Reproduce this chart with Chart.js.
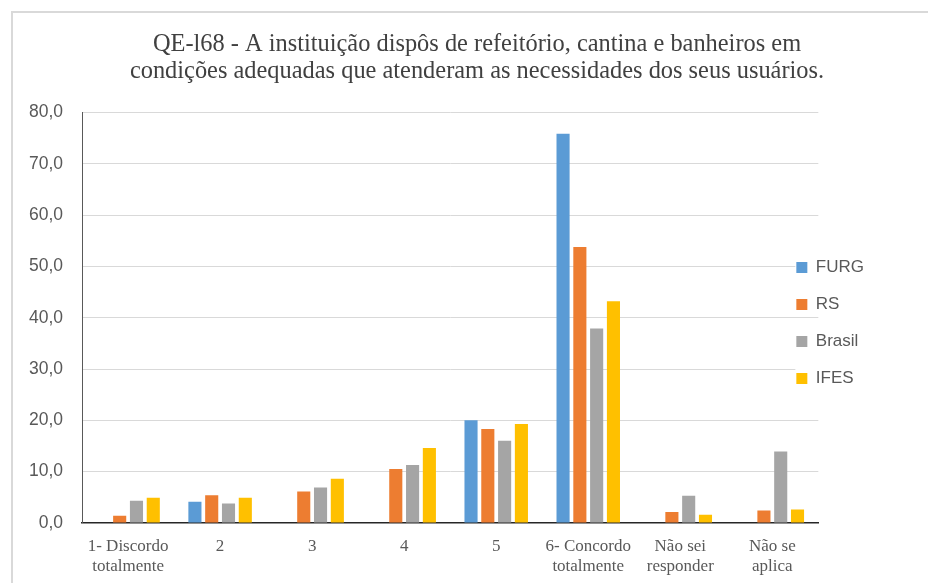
<!DOCTYPE html>
<html>
<head>
<meta charset="utf-8">
<script src="https://cdn.jsdelivr.net/npm/chart.js@4"></script>
<style>
  html, body { margin: 0; padding: 0; background: #fff; overflow: hidden; width: 928px; height: 583px; }
  #frame { position: absolute; left: 11px; top: 11px; width: 940px; height: 600px; border: 2px solid #d9d9d9; background: #fff; }
  #wrap { position: absolute; left: -3px; top: 0; width: 934px; height: 590px; }
</style>
</head>
<body>
<div id="frame"><div id="wrap"><canvas id="c"></canvas></div></div>
<script>
const titleLines = [
  "QE-l68 - A instituição dispôs de refeitório, cantina e banheiros em",
  "condições adequadas que atenderam as necessidades dos seus usuários."
];
const categories = [
  ["1- Discordo", "totalmente"],
  "2",
  "3",
  "4",
  "5",
  ["6- Concordo", "totalmente"],
  ["Não sei", "responder"],
  ["Não se", "aplica"]
];
const seriesNames = ["FURG", "RS", "Brasil", "IFES"];
const furg   = [0,   4.1, 0,   0,    20.0, 75.9, 0,   0];
const rs     = [1.4, 5.4, 6.1, 10.5, 18.3, 53.8, 2.1, 2.4];
const brasil = [4.3, 3.8, 6.9, 11.3, 16.0, 37.9, 5.3, 13.9];
const ifes   = [4.9, 4.9, 8.6, 14.6, 19.3, 43.2, 1.6, 2.6];
const yTicks = [0, 10, 20, 30, 40, 50, 60, 70, 80];
const colors = ["#5B9BD5", "#ED7D31", "#A5A5A5", "#FFC000"];

const seriesValues = [furg, rs, brasil, ifes];
const datasets = seriesNames.map((name, i) => ({
  label: name,
  data: seriesValues[i],
  backgroundColor: colors[i],
  borderWidth: 0,
  categoryPercentage: 0.73,
  barPercentage: 0.78
}));

const layoutTweaks = {
  id: 'layoutTweaks',
  afterLayout(chart) {
    const tb = chart.titleBlock;
    if (tb) { tb.left += 14; tb.right += 14; }
    const lg = chart.legend;
    if (!lg) return;
    const dx = (chart.chartArea.right - 42) - lg.left;
    const dy = 21;
    lg.left += dx; lg.right += dx;
    lg.top += dy; lg.bottom += dy;
    if (!lg._patched) {
      const orig = lg.draw;
      lg.draw = function (...args) {
        const ctx = this.ctx;
        const pad = this.options.labels.padding;
        const fs = this.options.labels.font.size;
        const col = (this.columnSizes && this.columnSizes[0]) || { width: 80, height: 0 };
        const y0 = (this.top + pad + this.bottom - col.height) / 2;
        ctx.save();
        ctx.fillStyle = '#ffffff';
        (this.legendItems || []).forEach((it, i) => {
          ctx.fillRect(this.left + pad - 1, y0 + i * (fs + pad) - 3, col.width, fs + 6);
        });
        ctx.restore();
        return orig.apply(this, args);
      };
      lg._patched = true;
    }
  }
};

new Chart(document.getElementById('c'), {
  type: 'bar',
  data: { labels: categories, datasets },
  plugins: [layoutTweaks],
  options: {
    responsive: true,
    maintainAspectRatio: false,
    animation: false,
    layout: { padding: { left: 0, right: 28, top: 0, bottom: 12 } },
    plugins: {
      tooltip: { enabled: false },
      title: {
        display: true,
        text: titleLines,
        color: '#404040',
        font: { family: '"Liberation Serif", "Times New Roman", serif', size: 24.4, weight: 'normal', lineHeight: 1.12 },
        padding: { top: 18, bottom: 27 }
      },
      legend: {
        display: true,
        position: 'right',
        align: 'center',
        labels: {
          boxWidth: 11,
          boxHeight: 11,
          padding: 20,
          color: '#595959',
          font: { family: '"Liberation Sans", Arial, sans-serif', size: 17 }
        }
      }
    },
    scales: {
      x: {
        grid: { display: false, drawTicks: false },
        border: { display: true, color: '#262626', width: 1.5 },
        ticks: {
          color: '#595959',
          padding: 14,
          maxRotation: 0,
          autoSkip: false,
          font: { family: '"Liberation Serif", "Times New Roman", serif', size: 17, lineHeight: 1.18 }
        }
      },
      y: {
        min: 0,
        max: 80,
        afterBuildTicks(scale) { scale.ticks = yTicks.map(v => ({ value: v })); },
        grid: { color: '#d9d9d9', lineWidth: 1, drawTicks: false },
        border: { display: true, color: '#595959', width: 1 },
        ticks: {
          color: '#595959',
          padding: 19,
          font: { family: '"Liberation Sans", Arial, sans-serif', size: 17.5 },
          callback: (v) => Number(v).toFixed(1).replace('.', ',')
        }
      }
    }
  }
});
</script>
</body>
</html>
